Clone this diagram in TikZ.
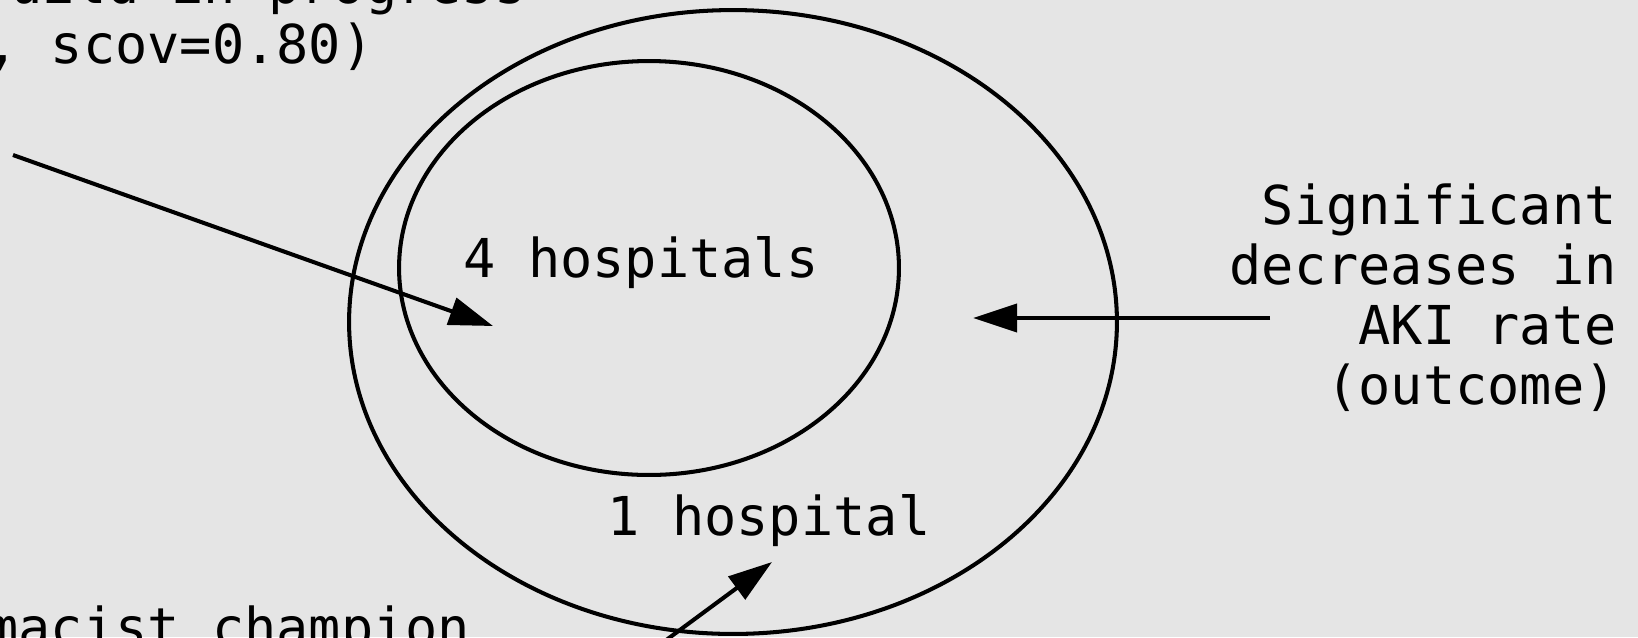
\documentclass[tikz,border=0pt]{standalone}
\usepackage{fontspec}
\setmainfont{DejaVu Sans Mono}
\usetikzlibrary{arrows.meta,shapes.geometric}
\definecolor{bggray}{RGB}{229,229,229}
\begin{document}
\begin{tikzpicture}[x=0.02cm, y=-0.02cm,
  ring/.style={draw, ellipse, line width=2.3pt, inner sep=0pt},
  lbl/.style={inner sep=0pt, font=\fontsize{30.5}{34}\selectfont},
  arr/.style={-{Triangle[length=0.88cm, width=0.56cm]}, line width=2.3pt}]
  % Canvas
  \useasboundingbox (0,0) rectangle (1638,637);
  \fill[bggray] (0,0) rectangle (1638,637);
  \clip (0,0) rectangle (1638,637);

  % Rings
  \node[ring, minimum width=15.36cm, minimum height=12.48cm] (outer) at (733,322) {};
  \node[ring, minimum width=10cm, minimum height=8.28cm] (inner) at (649,268) {};

  % Labels
  \node[lbl, anchor=base] (four) at (641,277) {4 hospitals};
  \node[lbl, anchor=base] (one) at (769,535) {1 hospital};
  \node[lbl, anchor=base east, align=right] (aki) at (1617,404) {Significant\\decreases in\\AKI rate\\(outcome)};
  \node[lbl, anchor=base west] (buildtop) at (10,3) {uild in progress};
  \node[lbl, anchor=base west] (buildbot) at (-14,63) {, scov=0.80)};
  \node[lbl, anchor=base west] (champ) at (-14,646) {macist champion};

  % Arrow ends
  \coordinate (buildtail) at (13,155);
  \coordinate (buildtip) at (493,326);
  \coordinate (akitail) at (1270,318);
  \coordinate (akitip) at (973,318);
  \coordinate (champtail) at (650,652);
  \coordinate (champtip) at (772,562);

  % Arrows
  \draw[arr] (buildtail) -- (buildtip);
  \draw[arr] (akitail) -- (akitip);
  \draw[arr] (champtail) -- (champtip);
\end{tikzpicture}
\end{document}
